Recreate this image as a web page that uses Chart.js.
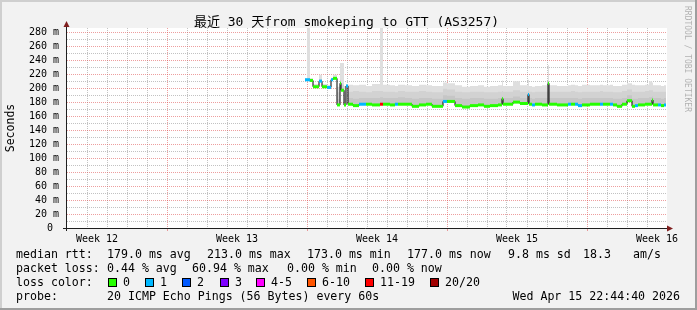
<!DOCTYPE html>
<html>
<head>
<meta charset="utf-8">
<style>
  html, body { margin: 0; padding: 0; background: #f2f2f2; }
  canvas { display: block; }
</style>
<script src="https://cdn.jsdelivr.net/npm/chart.js@4/dist/chart.umd.min.js"></script>
</head>
<body>
<canvas id="graph" width="697" height="310"></canvas>
<script>
// x is in days since the left edge of the 30 day window
const days = [11.9, 12.0, 12.15, 12.3, 12.6, 12.75, 13.0, 13.2, 13.3, 13.5, 13.65, 13.7, 13.85, 13.95,
    14.05, 14.3, 14.6, 14.95, 15.25, 15.65, 15.8, 16.15, 16.4, 16.55, 16.9, 17.25, 17.6, 17.95,
    18.25, 18.8, 19.0, 19.4, 19.75, 20.15, 20.55, 20.85, 21.15, 21.55, 21.75, 21.8, 22.3, 22.65,
    23.05, 23.1, 23.25, 23.4, 23.75, 24.05, 24.1, 24.5, 25.05, 25.2, 25.4, 25.55, 25.75, 26.15,
    26.65, 26.8, 27.15, 27.3, 27.5, 27.75, 28.0, 28.25, 28.4, 28.55, 28.9, 29.1, 29.25, 29.3,
    29.55, 29.7, 29.85];
const endDay = 29.95;

// median rtt in ms
const median = [212, 212, 211, 202, 210, 202, 201, 212, 214, 176, 207, 197, 176, 203,
    177, 175, 177, 177, 176, 177, 177, 176, 177, 177, 177, 174, 176, 177,
    174, 181, 181, 175, 173, 175, 176, 174, 175, 176, 185, 177, 180, 178,
    191, 177, 176, 177, 176, 207, 177, 176, 177, 177, 177, 175, 176, 177,
    177, 177, 177, 176, 174, 177, 182, 174, 175, 176, 177, 177, 183, 176,
    176, 175, 176];

// index into lossColors
const loss = [1, 1, 0, 0, 1, 0, 1, 1, 0, 0, 0, 0, 0, 1,
    0, 0, 1, 0, 0, 6, 0, 0, 1, 0, 0, 0, 0, 0,
    0, 1, 0, 0, 0, 0, 0, 0, 0, 0, 0, 0, 0, 0,
    1, 0, 1, 0, 0, 0, 0, 0, 1, 0, 1, 1, 0, 0,
    1, 0, 1, 0, 0, 0, 0, 0, 1, 0, 0, 0, 0, 0,
    1, 0, 1];

// smoke bands (ms)
const smokeTop = [214, 286, 214, 206, 219, 206, 204, 215, 219, 202, 236, 236, 203, 206,
    205, 204, 205, 203, 206, 286, 205, 204, 203, 205, 204, 203, 205, 204,
    203, 208, 207, 204, 202, 203, 204, 202, 203, 204, 211, 203, 210, 204,
    212, 203, 202, 203, 204, 233, 204, 203, 204, 205, 204, 203, 205, 204,
    205, 204, 205, 203, 203, 205, 207, 205, 204, 204, 205, 210, 208, 204,
    204, 203, 204];
const smokeMid = [213, 214, 212, 204, 213, 204, 203, 213, 215, 194, 212, 205, 195, 205,
    195, 196, 195, 194, 196, 196, 195, 195, 194, 196, 195, 195, 196, 195,
    194, 199, 198, 195, 194, 195, 195, 194, 194, 195, 196, 195, 197, 195,
    197, 195, 194, 195, 195, 210, 195, 195, 195, 196, 195, 194, 195, 195,
    196, 195, 195, 194, 194, 196, 198, 195, 195, 195, 196, 197, 197, 195,
    195, 195, 195];
const smokeDark = [212, 213, 211, 203, 211, 203, 202, 212, 214, 184, 208, 199, 185, 204,
    186, 185, 186, 186, 186, 187, 186, 186, 186, 187, 186, 185, 186, 186,
    185, 190, 189, 186, 185, 186, 186, 185, 185, 186, 188, 186, 188, 186,
    192, 186, 185, 186, 186, 208, 186, 186, 186, 186, 186, 185, 186, 186,
    186, 186, 186, 185, 185, 186, 190, 185, 185, 186, 186, 187, 188, 186,
    186, 185, 186];

const lossLabels = ['0', '1', '2', '3', '4-5', '6-10', '11-19', '20/20'];
const lossColors = ['#26ff00', '#00b8ff', '#0059ff', '#7e00ff', '#ff00ff', '#ff5500', '#ff0000', '#a10000'];

const weekLabels = ['Week 12', 'Week 13', 'Week 14', 'Week 15', 'Week 16'];
const weekPos = [1.5, 8.5, 15.5, 22.5, 29.5];
const majorDays = [5, 12, 19, 26];

const rttStats = ['179.0 ms avg', '213.0 ms max', '173.0 ms min', '177.0 ms now', '9.8 ms sd', '18.3', 'am/s'];
const lossStats = ['0.44 % avg', '60.94 % max', '0.00 % min', '0.00 % now'];
const probeText = '20 ICMP Echo Pings (56 Bytes) every 60s';
const stamp = 'Wed Apr 15 22:44:40 2026';
const title = '最近 30 天from smokeping to GTT (AS3257)';

const FONT = '"DejaVu Sans Mono", "Noto Sans CJK SC", monospace';
const GRID = 'rgba(143,143,143,0.55)';
const MGRID = 'rgba(222,79,79,0.55)';

const steps = arr => days.map((d, i) => ({ x: d, y: arr[i] })).concat([{ x: endDay, y: arr[arr.length - 1] }]);

// colored median: one flat piece per sample, gaps between them
const colorPts = [];
const colorSeg = [];
days.forEach((d, i) => {
    const next = i + 1 < days.length ? days[i + 1] : endDay;
    const c = lossColors[loss[i]];
    colorPts.push({ x: d, y: median[i] }, { x: next, y: median[i] }, { x: next, y: null });
    colorSeg.push(c, c, null);
});

const xGridTicks = [];
for (let k = 0; k <= 60; k++) xGridTicks.push(k / 2);
const yGridTicks = [];
for (let v = 0; v <= 280; v += 10) yGridTicks.push(v);

const rrdFrame = {
    id: 'rrdFrame',
    beforeDraw(chart) {
        const { ctx, chartArea: a, width, height } = chart;
        ctx.save();
        ctx.fillStyle = '#f2f2f2';
        ctx.fillRect(0, 0, width, height);
        ctx.fillStyle = '#cfcfcf';
        ctx.fillRect(0, 0, width, 2);
        ctx.fillRect(0, 0, 2, height);
        ctx.fillStyle = '#9e9e9e';
        ctx.fillRect(0, height - 2, width, 2);
        ctx.fillRect(width - 2, 0, 2, height);
        ctx.fillStyle = '#ffffff';
        ctx.fillRect(a.left, a.top, a.right - a.left, a.bottom - a.top);
        ctx.restore();
    },
    afterDraw(chart) {
        const { ctx, chartArea: a, width } = chart;
        ctx.save();
        // axes
        ctx.strokeStyle = '#1f1f1f';
        ctx.lineWidth = 1;
        ctx.beginPath();
        ctx.moveTo(a.left - 4, a.bottom + 0.5);
        ctx.lineTo(a.right + 1, a.bottom + 0.5);
        ctx.moveTo(a.left - 0.5, a.bottom + 3);
        ctx.lineTo(a.left - 0.5, a.top - 2);
        ctx.stroke();
        ctx.fillStyle = '#801f1f';
        ctx.beginPath();
        ctx.moveTo(a.right, a.bottom - 2.5);
        ctx.lineTo(a.right + 6, a.bottom + 0.5);
        ctx.lineTo(a.right, a.bottom + 3.5);
        ctx.closePath();
        ctx.fill();
        ctx.beginPath();
        ctx.moveTo(a.left - 3.5, a.top - 1);
        ctx.lineTo(a.left - 0.5, a.top - 7);
        ctx.lineTo(a.left + 2.5, a.top - 1);
        ctx.closePath();
        ctx.fill();

        // title
        ctx.fillStyle = '#000';
        ctx.textBaseline = 'alphabetic';
        ctx.font = '13px ' + FONT;
        ctx.textAlign = 'center';
        ctx.fillText(title, width / 2 - 2, 26);

        // vertical label
        ctx.save();
        ctx.translate(13.5, (a.top + a.bottom) / 2);
        ctx.rotate(-Math.PI / 2);
        ctx.font = '11.5px ' + FONT;
        ctx.fillText('Seconds', 0, 0);
        ctx.restore();

        // watermark
        ctx.save();
        ctx.translate(685, 6);
        ctx.rotate(Math.PI / 2);
        ctx.font = '8px ' + FONT;
        ctx.textAlign = 'left';
        ctx.fillStyle = 'rgba(0,0,0,0.28)';
        ctx.fillText('RRDTOOL / TOBI OETIKER', 0, 0);
        ctx.restore();

        // legend block
        ctx.font = '11.6px ' + FONT;
        ctx.textAlign = 'left';
        ctx.fillStyle = '#000';
        const rows = [257.5, 271.5, 285.5, 299.5];
        ctx.fillText('median rtt:', 16, rows[0]);
        [107, 207, 307, 407, 508, 583, 633].forEach((x, i) => ctx.fillText(rttStats[i], x, rows[0]));
        ctx.fillText('packet loss:', 16, rows[1]);
        [107, 192, 287, 372].forEach((x, i) => ctx.fillText(lossStats[i], x, rows[1]));
        ctx.fillText('loss color:', 16, rows[2]);
        [108, 145, 182, 220, 256, 307, 365, 430].forEach((x, i) => {
            ctx.fillStyle = lossColors[i];
            ctx.fillRect(x, 278, 8, 8);
            ctx.strokeStyle = '#000';
            ctx.strokeRect(x + 0.5, 278.5, 8, 8);
            ctx.fillStyle = '#000';
            ctx.fillText(lossLabels[i], x + 15, rows[2]);
        });
        ctx.fillText('probe:', 16, rows[3]);
        ctx.fillText(probeText, 107, rows[3]);
        ctx.textAlign = 'right';
        ctx.fillText(stamp, 680, rows[3]);
        ctx.restore();
    }
};

const smoke = (data, color) => ({
    data: steps(data),
    stepped: true,
    borderWidth: 0,
    borderColor: 'rgba(0,0,0,0)',
    backgroundColor: color,
    fill: 1,
    pointRadius: 0
});

new Chart(document.getElementById('graph'), {
    type: 'line',
    data: {
        datasets: [
            {
                data: colorPts,
                borderWidth: 3,
                borderCapStyle: 'butt',
                borderColor: '#26ff00',
                segment: { borderColor: c => colorSeg[c.p0DataIndex] || 'rgba(0,0,0,0)' },
                spanGaps: false,
                fill: false,
                pointRadius: 0
            },
            {
                data: steps(median),
                stepped: true,
                borderWidth: 1,
                borderColor: '#000000',
                fill: false,
                pointRadius: 0
            },
            smoke(smokeDark, '#c6c6c6'),
            smoke(smokeMid, '#d2d2d2'),
            smoke(smokeTop, '#dfdfdf')
        ]
    },
    options: {
        responsive: false,
        animation: false,
        events: [],
        layout: { padding: { left: 0, right: 30, top: 28, bottom: 0 } },
        plugins: { legend: { display: false }, tooltip: { enabled: false } },
        scales: {
            x: {
                type: 'linear',
                min: 0,
                max: 30,
                z: 1,
                afterBuildTicks: s => { s.ticks = xGridTicks.map(v => ({ value: v })); },
                afterFit: s => { s.height = 82; },
                ticks: {
                    autoSkip: false,
                    maxRotation: 0,
                    minRotation: 0,
                    padding: 2,
                    color: '#000',
                    font: { family: FONT, size: 10 },
                    callback: v => {
                        const i = weekPos.indexOf(v);
                        return i < 0 ? '' : weekLabels[i];
                    }
                },
                grid: {
                    drawTicks: true,
                    tickLength: 3,
                    lineWidth: 1,
                    color: c => {
                        const v = c.tick.value;
                        if (v <= 0 || v >= 30 || v % 1) return 'rgba(0,0,0,0)';
                        return majorDays.includes(v) ? MGRID : GRID;
                    },
                    tickColor: c => majorDays.includes(c.tick.value) ? MGRID : 'rgba(0,0,0,0)'
                },
                border: { display: false, dash: [1, 1] }
            },
            y: {
                type: 'linear',
                min: 0,
                max: 286,
                z: 1,
                afterBuildTicks: s => { s.ticks = yGridTicks.map(v => ({ value: v })); },
                afterFit: s => { s.width = 67; },
                ticks: {
                    autoSkip: false,
                    padding: 8,
                    color: '#000',
                    font: { family: FONT, size: 10 },
                    callback: v => v % 20 ? '' : (v === 0 ? '0 ' : v + ' m')
                },
                grid: {
                    drawTicks: false,
                    lineWidth: 1,
                    color: c => {
                        const v = c.tick.value;
                        if (v === 0) return 'rgba(0,0,0,0)';
                        return v % 20 ? GRID : MGRID;
                    }
                },
                border: { display: false, dash: [1, 1] }
            }
        }
    },
    plugins: [rrdFrame]
});
</script>
</body>
</html>
